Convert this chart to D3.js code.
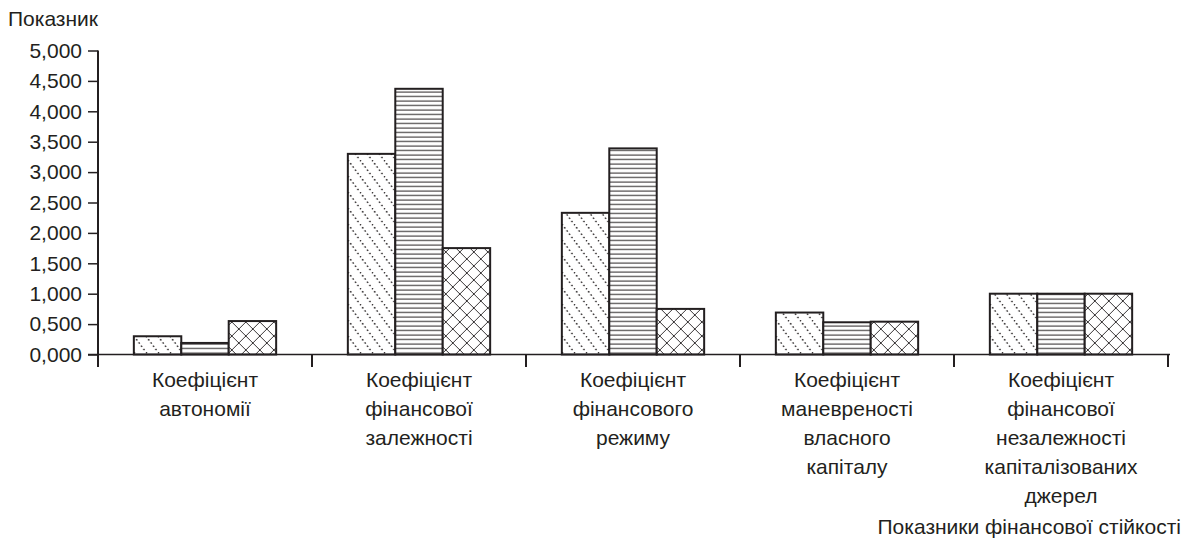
<!DOCTYPE html>
<html>
<head>
<meta charset="utf-8">
<script src="https://cdn.jsdelivr.net/npm/d3@7"></script>
<style>
  html, body { margin: 0; padding: 0; background: #fff; }
  svg { display: block; }
  text { font-family: "Liberation Sans", Arial, sans-serif; fill: #231f20; }
</style>
</head>
<body>
<svg id="chart" width="1187" height="541"></svg>
<script>
// Financial stability indicators, three periods per indicator
const categories = [
  ["Коефіцієнт", "автономії"],
  ["Коефіцієнт", "фінансової", "залежності"],
  ["Коефіцієнт", "фінансового", "режиму"],
  ["Коефіцієнт", "маневреності", "власного", "капіталу"],
  ["Коефіцієнт", "фінансової", "незалежності", "капіталізованих", "джерел"]
];
const seriesKeys = ["s1", "s2", "s3"];
const series1 = [0.30, 3.30, 2.33, 0.69, 1.00];
const series2 = [0.19, 4.37, 3.39, 0.53, 1.00];
const series3 = [0.55, 1.75, 0.75, 0.54, 1.00];
const yTicks = [0, 0.5, 1, 1.5, 2, 2.5, 3, 3.5, 4, 4.5, 5];
const yTitle = "Показник";
const xTitle = "Показники фінансової стійкості";

const ink = "#231f20";
const svg = d3.select("#chart");

const catIds = categories.map((_, i) => i);
const values = [series1, series2, series3];

const x0 = d3.scaleBand().domain(catIds).range([98, 1168])
  .paddingInner(0.335).paddingOuter(0.1675);
const x1 = d3.scaleBand().domain(seriesKeys).range([0, x0.bandwidth()]);
const y = d3.scaleLinear().domain([0, 5]).range([354.5, 50.5]);

// Hatch patterns
const defs = svg.append("defs");
const p1 = defs.append("pattern").attr("id", "hatch-s1")
  .attr("patternUnits", "userSpaceOnUse").attr("width", 12).attr("height", 16);
p1.append("rect").attr("width", 12).attr("height", 16).attr("fill", "#fff");
p1.append("line").attr("x1", 0).attr("y1", 0).attr("x2", 12).attr("y2", 16)
  .attr("stroke", ink).attr("stroke-width", 1.4).attr("stroke-dasharray", "1.6 2.4");

const p2 = defs.append("pattern").attr("id", "hatch-s2")
  .attr("patternUnits", "userSpaceOnUse").attr("width", 8).attr("height", 4.5);
p2.append("rect").attr("width", 8).attr("height", 4.5).attr("fill", "#fff");
p2.append("line").attr("x1", 0).attr("y1", 2).attr("x2", 8).attr("y2", 2)
  .attr("stroke", ink).attr("stroke-width", 1);

const p3 = defs.append("pattern").attr("id", "hatch-s3")
  .attr("patternUnits", "userSpaceOnUse").attr("width", 14).attr("height", 14);
p3.append("rect").attr("width", 14).attr("height", 14).attr("fill", "#fff");
p3.append("path").attr("d", "M0,0L14,14M14,0L0,14M-1,13L1,15M13,-1L15,1M13,15L15,13M-1,1L1,-1")
  .attr("stroke", ink).attr("stroke-width", 0.9).attr("fill", "none");

const fills = { s1: "url(#hatch-s1)", s2: "url(#hatch-s2)", s3: "url(#hatch-s3)" };

// Bars
const groups = svg.append("g").selectAll("g").data(catIds).join("g")
  .attr("transform", d => `translate(${x0(d)},0)`);
groups.selectAll("rect")
  .data(i => seriesKeys.map((k, s) => ({ key: k, value: values[s][i] })))
  .join("rect")
  .attr("x", d => x1(d.key))
  .attr("y", d => y(d.value))
  .attr("width", x1.bandwidth())
  .attr("height", d => y(0) - y(d.value))
  .attr("fill", d => fills[d.key])
  .attr("stroke", ink).attr("stroke-width", 2);

// Y axis
const fmt = v => d3.format(".3f")(v).replace(".", ",");
const yAxis = svg.append("g").attr("transform", "translate(98,0)")
  .call(d3.axisLeft(y).tickValues(yTicks).tickFormat(fmt).tickSize(10).tickSizeOuter(0));
yAxis.select(".domain").remove();
yAxis.append("line").attr("x1", 0).attr("x2", 0).attr("y1", y(5)).attr("y2", 367)
  .attr("stroke", ink).attr("stroke-width", 2);
yAxis.selectAll(".tick line").attr("stroke", ink).attr("stroke-width", 1.5);
yAxis.selectAll(".tick text").attr("x", -16).attr("font-size", 21)
  .attr("font-family", null).attr("fill", ink);

// X axis baseline and category ticks
const step = x0.step();
const boundaries = catIds.map(i => x0(i) - step * x0.paddingInner() / 2)
  .concat([x0(catIds.length - 1) + x0.bandwidth() + step * x0.paddingInner() / 2]);
svg.append("line").attr("x1", 88).attr("x2", boundaries[boundaries.length - 1] + 2)
  .attr("y1", y(0)).attr("y2", y(0)).attr("stroke", ink).attr("stroke-width", 1.5);
svg.append("g").selectAll("line").data(boundaries.slice(1)).join("line")
  .attr("x1", d => d).attr("x2", d => d).attr("y1", y(0)).attr("y2", 367)
  .attr("stroke", ink).attr("stroke-width", 2);

// Category labels
const labels = svg.append("g").selectAll("text").data(catIds).join("text")
  .attr("text-anchor", "middle").attr("font-size", 21)
  .attr("transform", d => `translate(${x0(d) + x0.bandwidth() / 2},386.5)`);
labels.selectAll("tspan").data(d => categories[d]).join("tspan")
  .attr("x", 0).attr("y", (d, i) => i * 29).text(d => d);

// Axis titles
svg.append("text").attr("x", 8).attr("y", 26).attr("font-size", 21).text(yTitle);
svg.append("text").attr("x", 1181).attr("y", 534).attr("text-anchor", "end")
  .attr("font-size", 21).text(xTitle);
</script>
</body>
</html>
